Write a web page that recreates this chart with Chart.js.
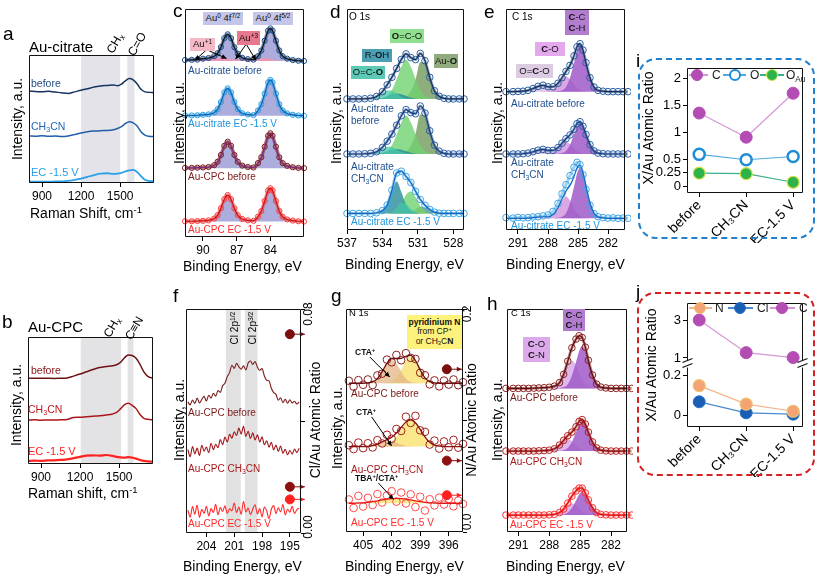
<!DOCTYPE html>
<html><head><meta charset="utf-8">
<script src="https://cdn.jsdelivr.net/npm/chart.js@4.4.1/dist/chart.umd.min.js"></script>
<style>
html,body{margin:0;padding:0;background:#fff;}
body{width:817px;height:575px;overflow:hidden;position:relative;font-family:'Liberation Sans',Arial,Helvetica,sans-serif;color:#000;}
canvas{position:absolute;left:0;top:0;}
.t{position:absolute;white-space:nowrap;line-height:1;}
.bx{position:absolute;display:flex;flex-direction:column;align-items:center;justify-content:center;line-height:1.1;white-space:nowrap;color:#111;}
sup{font-size:0.68em;position:relative;top:-0.5em;vertical-align:baseline;}
sub{font-size:0.68em;position:relative;top:0.3em;vertical-align:baseline;}
.dash{position:absolute;box-sizing:border-box;border-radius:18px;}
.lg{position:absolute;box-sizing:border-box;}
</style></head><body>
<script>
// ---------------- DATA ----------------
// Raman (a, b)
const ramanX = [800, 850, 900, 950, 1000, 1050, 1100, 1150, 1200, 1250, 1300, 1350, 1400, 1450, 1480, 1510, 1540, 1570, 1600, 1630, 1660, 1690, 1720, 1760];
const aBefore = [71.8, 71.5, 71.2, 71.6, 71.0, 70.6, 70.0, 71.2, 72.5, 73.6, 75.0, 75.8, 76.2, 76.6, 75.9, 77.2, 79.8, 81.6, 80.6, 77.5, 73.2, 71.2, 70.8, 70.6];
const aCH3CN = [36.8, 36.6, 36.9, 36.5, 36.7, 36.4, 36.8, 37.8, 39.0, 40.0, 40.6, 40.9, 41.0, 41.6, 42.6, 44.0, 46.4, 47.9, 47.0, 44.6, 40.0, 37.4, 36.5, 36.3];
const aEC = [1.0, 1.0, 1.1, 1.0, 1.2, 1.3, 1.6, 2.4, 3.4, 4.8, 6.2, 7.4, 7.6, 7.2, 7.4, 8.0, 9.0, 9.9, 10.2, 8.6, 5.4, 2.6, 1.6, 1.3];
const bBefore = [67.5, 67.5, 67.6, 67.5, 67.4, 67.5, 67.7, 69.2, 70.8, 72.6, 74.4, 76.0, 76.8, 77.4, 78.2, 80.0, 83.5, 85.8, 85.4, 83.2, 78.5, 72.5, 69.0, 67.6];
const bCH3CN = [34.6, 34.8, 34.5, 34.7, 34.6, 34.8, 35.0, 36.6, 36.8, 37.2, 37.6, 38.0, 38.6, 39.4, 40.6, 43.4, 46.6, 47.8, 46.2, 43.6, 39.0, 36.0, 35.2, 34.8];
const bEC = [2.4, 2.6, 2.5, 2.8, 2.9, 3.2, 3.6, 4.6, 5.6, 6.6, 6.8, 6.6, 7.1, 6.4, 5.6, 5.2, 5.0, 5.4, 5.0, 4.2, 3.2, 2.4, 2.0, 1.8];
const ramanTicks = [900, 1200, 1500];
const aBands = [[1200, 1500], [1555, 1610]];
const bBands = [[1205, 1515], [1565, 1610]];

// c: Au 4f
const cX = [91.6, 91, 90.5, 90, 89.5, 89, 88.7, 88.4, 88.1, 87.8, 87.5, 87.2, 86.9, 86.5, 86, 85.5, 85.1, 84.8, 84.5, 84.2, 84.0, 83.8, 83.5, 83.2, 82.9, 82.5, 82, 81.5, 81];
const cCitBefore = [77.6, 77.7, 77.8, 78.2, 78.5, 79.3, 80.6, 83.3, 87.2, 88.9, 87.2, 83.2, 80.4, 78.6, 78.0, 77.8, 79.3, 81.8, 86.1, 90.5, 91.5, 90.5, 86.1, 81.8, 79.3, 78.2, 77.6, 77.3, 77.2];
const cCitBeforeAuPlus = [77.2, 77.3, 77.4, 77.6, 78.0, 78.4, 78.6, 78.7, 78.6, 78.4, 78.1, 77.9, 77.8, 77.8, 77.9, 78.0, 78.3, 78.5, 78.6, 78.4, 78.2, 77.9, 77.6, 77.4, 77.3, 77.2, 77.2, 77.2, 77.2];
const cCitEC = [53.3, 53.3, 53.4, 53.6, 53.8, 54.6, 56.1, 59.2, 63.4, 65.2, 63.4, 59.2, 56.1, 54.3, 53.7, 53.5, 55.5, 58.2, 62.9, 67.8, 68.9, 67.8, 62.9, 58.2, 55.5, 54.2, 53.6, 53.3, 53.2];
const cCpcBefore = [30.3, 30.3, 30.4, 30.5, 30.7, 31.5, 33.0, 36.0, 40.0, 41.8, 40.0, 36.0, 33.0, 31.3, 30.7, 30.5, 32.4, 35.0, 39.6, 44.4, 45.5, 44.4, 39.6, 35.0, 32.4, 31.2, 30.6, 30.3, 30.2];
const cCpcEC = [6.9, 6.9, 7.0, 7.1, 7.3, 8.1, 9.6, 12.6, 16.6, 18.4, 16.6, 12.6, 9.6, 7.9, 7.3, 7.1, 8.9, 11.4, 15.8, 20.4, 21.4, 20.4, 15.8, 11.4, 8.9, 7.7, 7.2, 6.9, 6.8];
const cTicks = [90, 87, 84];

// d: O 1s
const dX = [537, 536.5, 536, 535.5, 535, 534.5, 534, 533.6, 533.2, 532.8, 532.4, 532.0, 531.6, 531.2, 530.8, 530.4, 530.0, 529.6, 529.2, 528.8, 528.4, 528, 527.5, 527.1];
const dEnv1 = [59.3, 59.3, 59.3, 59.4, 59.6, 60.4, 62.6, 65.7, 69.1, 73.1, 77.2, 79.7, 78.0, 77.1, 79.9, 76.6, 69.1, 63.0, 60.5, 59.6, 59.3, 59.3, 59.3, 59.3];
const dTeal1 = [59.3, 59.3, 59.3, 59.4, 59.6, 60.3, 61.8, 63.1, 63.0, 61.6, 60.3, 59.6, 59.4, 59.3, 59.3, 59.3, 59.3, 59.3, 59.3, 59.3, 59.3, 59.3, 59.3, 59.3];
const dRoh1 = [59.3, 59.3, 59.3, 59.3, 59.3, 59.4, 59.8, 60.6, 61.4, 61.8, 61.4, 60.6, 59.8, 59.4, 59.3, 59.3, 59.3, 59.3, 59.3, 59.3, 59.3, 59.3, 59.3, 59.3];
const dGreen1 = [59.3, 59.3, 59.3, 59.3, 59.3, 59.3, 59.6, 60.6, 63.3, 68.3, 73.9, 77.0, 73.9, 68.3, 63.2, 60.5, 59.6, 59.3, 59.3, 59.3, 59.3, 59.3, 59.3, 59.3];
const dOlive1 = [59.3, 59.3, 59.3, 59.3, 59.3, 59.3, 59.3, 59.3, 59.3, 59.3, 59.5, 60.4, 62.8, 68.0, 76.0, 75.4, 68.8, 63.0, 60.5, 59.6, 59.3, 59.3, 59.3, 59.3];
const dEnv2 = [34.4, 34.4, 34.4, 34.5, 34.7, 35.4, 37.4, 40.2, 43.4, 47.4, 51.7, 54.5, 53.1, 52.6, 56.1, 52.9, 44.9, 38.4, 35.7, 34.7, 34.4, 34.4, 34.4, 34.4];
const dTeal2 = [34.4, 34.4, 34.4, 34.5, 34.7, 35.3, 36.6, 37.7, 37.6, 36.4, 35.3, 34.7, 34.5, 34.4, 34.4, 34.4, 34.4, 34.4, 34.4, 34.4, 34.4, 34.4, 34.4, 34.4];
const dRoh2 = [34.4, 34.4, 34.4, 34.4, 34.4, 34.5, 34.9, 35.6, 36.3, 36.6, 36.3, 35.6, 34.9, 34.5, 34.4, 34.4, 34.4, 34.4, 34.4, 34.4, 34.4, 34.4, 34.4, 34.4];
const dGreen2 = [34.4, 34.4, 34.4, 34.4, 34.4, 34.4, 34.7, 35.7, 38.3, 43.2, 48.7, 51.8, 48.7, 43.2, 38.2, 35.6, 34.7, 34.4, 34.4, 34.4, 34.4, 34.4, 34.4, 34.4];
const dOlive2 = [34.4, 34.4, 34.4, 34.4, 34.4, 34.4, 34.4, 34.4, 34.4, 34.4, 34.6, 35.6, 38.2, 43.7, 52.3, 51.7, 44.6, 38.4, 35.7, 34.7, 34.4, 34.4, 34.4, 34.4];
const dEnv3 = [7.5, 7.5, 7.5, 7.5, 7.5, 7.8, 8.8, 11.3, 18.0, 25.8, 26.6, 24.2, 21.5, 17.5, 13.8, 11.2, 9.3, 8.1, 7.6, 7.5, 7.5, 7.5, 7.5, 7.5];
const dRoh3 = [7.5, 7.5, 7.5, 7.5, 7.5, 7.8, 8.8, 11.3, 17.2, 22.0, 17.2, 11.3, 8.8, 7.8, 7.5, 7.5, 7.5, 7.5, 7.5, 7.5, 7.5, 7.5, 7.5, 7.5];
const dGreen3 = [7.5, 7.5, 7.5, 7.5, 7.5, 7.5, 7.5, 7.5, 7.8, 9.0, 12.0, 16.0, 17.4, 14.8, 10.8, 8.5, 7.7, 7.5, 7.5, 7.5, 7.5, 7.5, 7.5, 7.5];
const dTeal3 = [7.5, 7.5, 7.5, 7.5, 7.5, 7.5, 7.5, 7.5, 8.0, 9.8, 12.4, 11.8, 9.6, 8.0, 7.5, 7.5, 7.5, 7.5, 7.5, 7.5, 7.5, 7.5, 7.5, 7.5];
const dOlive3 = [7.5, 7.5, 7.5, 7.5, 7.5, 7.5, 7.5, 7.5, 7.5, 7.5, 7.5, 7.6, 8.2, 9.4, 10.5, 10.2, 9.1, 8.1, 7.6, 7.5, 7.5, 7.5, 7.5, 7.5];
const dTicks = [537, 534, 531, 528];

// e: C 1s (Au-citrate)
const eX = [292.2, 291.5, 291, 290.5, 290, 289.5, 289, 288.5, 288, 287.5, 287, 286.6, 286.2, 285.8, 285.4, 285.1, 284.8, 284.5, 284.2, 283.8, 283.4, 283, 282.5, 282, 281.5, 281, 280.5, 280];
const eEnv1 = [62.6, 62.6, 62.7, 62.8, 63.2, 64.0, 65.0, 65.5, 64.8, 64.8, 66.4, 68.9, 71.8, 74.5, 78.8, 82.9, 84.3, 81.4, 75.7, 68.9, 64.7, 63.2, 62.8, 62.6, 62.6, 62.6, 62.6, 62.6];
const eCC1 = [62.6, 62.6, 62.6, 62.6, 62.6, 62.6, 62.6, 62.6, 62.6, 62.6, 62.8, 63.2, 64.7, 68.9, 75.6, 81.1, 83.6, 81.1, 75.6, 68.9, 64.7, 63.2, 62.8, 62.6, 62.6, 62.6, 62.6, 62.6];
const eCO1 = [62.6, 62.6, 62.6, 62.6, 62.6, 62.6, 62.6, 62.7, 62.8, 63.7, 65.8, 68.2, 69.6, 68.2, 65.8, 64.4, 63.3, 62.9, 62.7, 62.6, 62.6, 62.6, 62.6, 62.6, 62.6, 62.6, 62.6, 62.6];
const eOCO1 = [62.6, 62.6, 62.7, 62.8, 63.2, 64.0, 65.0, 65.4, 64.6, 63.7, 63.0, 62.7, 62.7, 62.6, 62.6, 62.6, 62.6, 62.6, 62.6, 62.6, 62.6, 62.6, 62.6, 62.6, 62.6, 62.6, 62.6, 62.6];
const eEnv2 = [34.4, 34.4, 34.4, 34.5, 34.8, 35.4, 36.1, 36.5, 36.0, 36.0, 37.3, 39.3, 41.3, 43.0, 45.6, 48.1, 49.0, 46.9, 43.2, 38.6, 35.8, 34.8, 34.5, 34.4, 34.4, 34.4, 34.4, 34.4];
const eCC2 = [34.4, 34.4, 34.4, 34.4, 34.4, 34.4, 34.4, 34.4, 34.4, 34.4, 34.5, 34.8, 35.8, 38.6, 43.1, 46.7, 48.4, 46.7, 43.1, 38.6, 35.8, 34.8, 34.5, 34.4, 34.4, 34.4, 34.4, 34.4];
const eCO2 = [34.4, 34.4, 34.4, 34.4, 34.4, 34.4, 34.4, 34.5, 34.6, 35.2, 36.9, 38.8, 39.9, 38.8, 36.9, 35.8, 35.0, 34.6, 34.5, 34.4, 34.4, 34.4, 34.4, 34.4, 34.4, 34.4, 34.4, 34.4];
const eOCO2 = [34.4, 34.4, 34.4, 34.5, 34.8, 35.4, 36.1, 36.4, 35.8, 35.2, 34.7, 34.5, 34.4, 34.4, 34.4, 34.4, 34.4, 34.4, 34.4, 34.4, 34.4, 34.4, 34.4, 34.4, 34.4, 34.4, 34.4, 34.4];
const eEnv3 = [5.3, 5.3, 5.3, 5.3, 5.4, 5.6, 5.8, 6.0, 6.0, 7.0, 10.1, 14.0, 17.6, 20.2, 24.1, 28.0, 29.3, 25.9, 19.8, 12.2, 7.6, 6.0, 5.5, 5.3, 5.3, 5.3, 5.3, 5.3];
const eData3 = [5.6, 5.4, 5.7, 5.5, 5.6, 5.9, 6.0, 6.4, 6.8, 8.4, 12.0, 16.4, 20.5, 24.6, 28.4, 30.6, 29.6, 25.0, 18.4, 11.2, 7.4, 6.0, 5.6, 5.4, 5.5, 5.3, 5.4, 5.3];
const eCC3 = [5.3, 5.3, 5.3, 5.3, 5.3, 5.3, 5.3, 5.3, 5.3, 5.3, 5.5, 6.0, 7.6, 12.2, 19.6, 25.5, 28.3, 25.5, 19.6, 12.2, 7.6, 6.0, 5.5, 5.3, 5.3, 5.3, 5.3, 5.3];
const eCO3 = [5.3, 5.3, 5.3, 5.3, 5.3, 5.3, 5.3, 5.4, 5.6, 6.8, 9.8, 13.3, 15.3, 13.3, 9.8, 7.8, 6.3, 5.7, 5.5, 5.3, 5.3, 5.3, 5.3, 5.3, 5.3, 5.3, 5.3, 5.3];
const eOCO3 = [5.3, 5.3, 5.3, 5.3, 5.4, 5.6, 5.8, 5.9, 5.7, 5.5, 5.4, 5.3, 5.3, 5.3, 5.3, 5.3, 5.3, 5.3, 5.3, 5.3, 5.3, 5.3, 5.3, 5.3, 5.3, 5.3, 5.3, 5.3];
const eTicks = [291, 288, 285, 282];

// f: Cl 2p
const fX = [206, 205.75, 205.5, 205.25, 205, 204.75, 204.5, 204.25, 204, 203.75, 203.5, 203.25, 203, 202.75, 202.5, 202.25, 202, 201.75, 201.5, 201.25, 201, 200.75, 200.5, 200.25, 200, 199.75, 199.5, 199.25, 199, 198.75, 198.5, 198.25, 198, 197.75, 197.5, 197.25, 197, 196.75, 196.5, 196.25, 196, 195.75, 195.5, 195.25, 195, 194.75, 194.5, 194.25, 194];
const fBefore = [58.5, 57.2, 59.4, 57.8, 60.2, 58.1, 59.6, 61.0, 58.9, 61.5, 60.2, 62.4, 61.1, 63.6, 62.8, 65.7, 66.9, 69.8, 71.6, 74.9, 73.5, 75.8, 74.2, 73.1, 74.6, 72.8, 75.9, 76.8, 75.2, 76.5, 74.1, 72.6, 73.4, 70.1, 68.2, 67.9, 64.6, 62.7, 61.9, 59.3, 60.4, 58.2, 59.7, 57.9, 59.5, 58.1, 58.8, 57.6, 58.4];
const fCH3CN = [37.2, 34.1, 38.6, 35.3, 37.9, 34.6, 39.2, 36.5, 38.4, 35.8, 40.1, 37.2, 39.6, 38.1, 41.7, 39.4, 42.8, 40.6, 44.1, 42.3, 45.2, 43.5, 46.8, 44.2, 47.6, 43.1, 45.4, 42.2, 44.7, 41.5, 43.8, 40.6, 42.9, 39.4, 41.2, 38.3, 40.5, 37.1, 39.3, 36.4, 38.8, 35.6, 37.4, 34.9, 36.8, 35.2, 37.5, 35.9, 37.8];
const fEC = [10.2, 7.1, 11.8, 8.4, 12.5, 6.9, 10.6, 8.8, 11.9, 7.6, 10.9, 9.2, 12.8, 8.1, 11.4, 9.6, 12.1, 8.7, 10.8, 9.9, 13.4, 9.1, 11.6, 8.3, 14.2, 9.4, 11.1, 8.2, 10.7, 12.6, 8.5, 10.9, 7.2, 11.6, 9.8, 6.4, 10.5, 12.2, 8.6, 11.3, 9.4, 12.7, 8.1, 10.6, 9.3, 11.9, 8.7, 10.4, 11.1];
const fTicks = [204, 201, 198, 195];
const fBands = [[200.3, 201.9], [198.5, 199.85]];
const clRatioX = [195.0, 195.0, 195.0];
const clRatio = [0.071, 0.0165, 0.012];
const clTicks = [0, 0.04, 0.08];

// g: N 1s
const gX = [406.5, 406, 405.5, 405, 404.5, 404, 403.5, 403, 402.5, 402, 401.5, 401, 400.5, 400, 399.5, 399, 398.5, 398, 397.5, 397, 396.5, 396, 395.5, 395, 394.5];
const gEnv1 = [66.7, 66.7, 66.7, 66.7, 66.9, 67.3, 68.8, 71.9, 75.6, 77.8, 77.8, 77.9, 78.8, 79.2, 76.9, 72.7, 69.1, 67.4, 66.9, 66.7, 66.7, 66.7, 66.7, 66.7, 66.7];
const gCTA1 = [66.7, 66.7, 66.7, 66.7, 66.9, 67.3, 68.8, 71.9, 75.4, 77.1, 75.4, 71.9, 68.8, 67.3, 66.9, 66.7, 66.7, 66.7, 66.7, 66.7, 66.7, 66.7, 66.7, 66.7, 66.7];
const gPyr1 = [66.7, 66.7, 66.7, 66.7, 66.7, 66.7, 66.7, 66.7, 66.9, 67.4, 69.1, 72.7, 76.7, 78.6, 76.7, 72.7, 69.1, 67.4, 66.9, 66.7, 66.7, 66.7, 66.7, 66.7, 66.7];
const gData1 = [67.8, 65.2, 68.1, 66.0, 68.4, 65.9, 70.2, 71.0, 77.3, 76.1, 79.4, 77.0, 80.2, 78.1, 77.6, 71.4, 70.3, 66.2, 68.0, 65.3, 67.9, 66.1, 68.4, 65.8, 67.2];
const gEnv2 = [38.3, 38.3, 38.3, 38.3, 38.4, 38.7, 39.4, 40.4, 41.4, 42.5, 44.4, 46.9, 49.3, 50.3, 49.0, 46.0, 42.7, 40.2, 39.0, 38.5, 38.3, 38.3, 38.3, 38.3, 38.3];
const gCTA2 = [38.3, 38.3, 38.3, 38.3, 38.4, 38.7, 39.4, 40.2, 40.7, 40.6, 40.0, 39.2, 38.6, 38.4, 38.3, 38.3, 38.3, 38.3, 38.3, 38.3, 38.3, 38.3, 38.3, 38.3, 38.3];
const gPyr2 = [38.3, 38.3, 38.3, 38.3, 38.3, 38.3, 38.3, 38.5, 39.0, 40.2, 42.7, 46.0, 49.0, 50.2, 49.0, 46.0, 42.7, 40.2, 39.0, 38.5, 38.3, 38.3, 38.3, 38.3, 38.3];
const gData2 = [38.9, 37.2, 40.1, 37.6, 39.8, 37.9, 41.2, 39.7, 43.6, 41.8, 46.2, 45.3, 51.7, 48.9, 52.1, 45.6, 44.9, 39.2, 41.0, 37.4, 40.6, 38.0, 41.3, 37.8, 39.5];
const gEnv3 = [12.9, 12.9, 13.0, 13.1, 13.3, 13.6, 14.0, 14.4, 14.8, 15.0, 15.1, 15.0, 14.8, 14.4, 14.0, 13.6, 13.3, 13.1, 13.0, 12.9, 12.9, 12.9, 12.9, 12.9, 12.9];
const gData3 = [14.6, 10.8, 16.2, 11.4, 15.3, 12.1, 17.0, 13.2, 16.4, 18.3, 13.6, 17.7, 12.8, 16.9, 11.2, 15.8, 9.6, 14.7, 11.9, 15.4, 12.3, 14.8, 11.5, 14.1, 12.6];
const gTicks = [405, 402, 399, 396];
const nRatioX = [396.2, 396.2, 396.2];
const nRatio = [0.146, 0.064, 0.033];
const nTicks = [0, 0.1, 0.2];

// h: C 1s (Au-CPC)
const hEnv1 = [64.4, 64.4, 64.4, 64.4, 64.4, 64.5, 64.6, 64.7, 64.9, 65.4, 67.0, 70.7, 76.6, 82.6, 86.5, 88.0, 87.2, 82.9, 77.0, 70.4, 66.3, 65.0, 64.6, 64.4, 64.4, 64.4, 64.4, 64.4];
const hCC1 = [64.4, 64.4, 64.4, 64.4, 64.4, 64.4, 64.4, 64.4, 64.4, 64.4, 64.6, 65.0, 66.3, 70.1, 76.2, 81.1, 83.4, 81.1, 76.2, 70.1, 66.3, 65.0, 64.6, 64.4, 64.4, 64.4, 64.4, 64.4];
const hCO1 = [64.4, 64.4, 64.4, 64.4, 64.4, 64.4, 64.4, 64.4, 64.5, 65.0, 66.7, 70.0, 74.7, 76.9, 74.7, 71.3, 68.2, 66.2, 65.2, 64.7, 64.4, 64.4, 64.4, 64.4, 64.4, 64.4, 64.4, 64.4];
const hEnv2 = [36.3, 36.3, 36.3, 36.3, 36.3, 36.3, 36.4, 36.5, 36.7, 37.3, 39.0, 41.1, 43.2, 44.8, 47.2, 49.6, 50.4, 48.4, 44.8, 40.4, 37.7, 36.7, 36.4, 36.3, 36.3, 36.3, 36.3, 36.3];
const hCC2 = [36.3, 36.3, 36.3, 36.3, 36.3, 36.3, 36.3, 36.3, 36.3, 36.3, 36.4, 36.7, 37.7, 40.4, 44.7, 48.2, 49.8, 48.2, 44.7, 40.4, 37.7, 36.7, 36.4, 36.3, 36.3, 36.3, 36.3, 36.3];
const hCO2 = [36.3, 36.3, 36.3, 36.3, 36.3, 36.3, 36.3, 36.4, 36.5, 37.1, 38.8, 40.7, 41.8, 40.7, 38.8, 37.7, 36.9, 36.5, 36.4, 36.3, 36.3, 36.3, 36.3, 36.3, 36.3, 36.3, 36.3, 36.3];
const hEnv3 = [7.6, 7.6, 7.6, 7.6, 7.6, 7.6, 7.6, 7.6, 7.7, 7.9, 8.7, 10.3, 13.0, 16.1, 18.4, 19.7, 19.7, 17.5, 14.4, 10.9, 8.7, 7.9, 7.7, 7.6, 7.6, 7.6, 7.6, 7.6];
const hCC3 = [7.6, 7.6, 7.6, 7.6, 7.6, 7.6, 7.6, 7.6, 7.6, 7.6, 7.7, 7.9, 8.7, 10.8, 14.1, 16.8, 18.1, 16.8, 14.1, 10.8, 8.7, 7.9, 7.7, 7.6, 7.6, 7.6, 7.6, 7.6];
const hCO3 = [7.6, 7.6, 7.6, 7.6, 7.6, 7.6, 7.6, 7.6, 7.7, 7.9, 8.6, 10.0, 11.9, 12.9, 11.9, 10.5, 9.2, 8.3, 7.9, 7.7, 7.6, 7.6, 7.6, 7.6, 7.6, 7.6, 7.6, 7.6];

// i, j: atomic ratios
const ratioCats = ['before', 'CH\u2083CN', 'EC-1.5 V'];
const ratioIdx = [0, 1, 2];
const iC = [1.36, 0.91, 1.73];
const iO = [0.59, 0.49, 0.55];
const iOAu = [0.24, 0.23, 0.07];
const iTicks = [0, 0.25, 0.5, 1, 1.5, 2];
const jN = [0.15, 0.056, 0.02];
const jCl = [0.068, 0.012, 0.005];
const jC = [3.0, 1.28, 1.02];
const jUpperTicks = [1, 3];
const jLowerTicks = [0, 0.2];

// ---------------- HELPERS ----------------
const W = 817, H = 575;
const FONT = "'Liberation Sans', Arial, Helvetica, sans-serif";
Chart.defaults.font.family = FONT;
Chart.defaults.color = '#000';

function P(xs, ys) { return xs.map((x, i) => ({ x: x, y: ys[i] })); }
function mkCanvas() { const c = document.createElement('canvas'); c.width = W; c.height = H; document.body.appendChild(c); return c; }

function drawArrow(c, x1, y1, x2, y2, col, head) {
  c.save(); c.strokeStyle = col; c.fillStyle = col; c.lineWidth = 1;
  c.beginPath(); c.moveTo(x1, y1); c.lineTo(x2, y2); c.stroke();
  if (head) {
    const a = Math.atan2(y2 - y1, x2 - x1), L = 5, w = 2.4;
    c.beginPath(); c.moveTo(x2, y2);
    c.lineTo(x2 - L * Math.cos(a) + w * Math.sin(a), y2 - L * Math.sin(a) - w * Math.cos(a));
    c.lineTo(x2 - L * Math.cos(a) - w * Math.sin(a), y2 - L * Math.sin(a) + w * Math.cos(a));
    c.closePath(); c.fill();
  }
  c.restore();
}

const framePlugin = {
  id: 'frame',
  afterDraw(chart, args, o) {
    const a = chart.chartArea, c = chart.ctx, s = o.sides || 'tlbr';
    const L = Math.round(a.left) + 0.5, R = Math.round(a.right) - 0.5, T = Math.round(a.top) + 0.5, B = Math.round(a.bottom) - 0.5;
    const gt = o.gapTop || 0, gb = o.gapBottom || 0;
    c.save(); c.strokeStyle = o.color || '#111'; c.lineWidth = 1; c.beginPath();
    if (s.includes('t')) { c.moveTo(L, T); c.lineTo(R, T); }
    if (s.includes('b')) { c.moveTo(L, B); c.lineTo(R, B); }
    if (s.includes('l')) { c.moveTo(L, T + gt); c.lineTo(L, B - gb); }
    if (s.includes('r')) { c.moveTo(R, T + gt); c.lineTo(R, B - gb); }
    c.stroke();
    if (o.breaks) {
      c.lineWidth = 1.2;
      for (const X of [L, R]) { c.beginPath(); c.moveTo(X - 5, B - 1); c.lineTo(X + 5, B - 5); c.moveTo(X - 5, B + 4); c.lineTo(X + 5, B); c.stroke(); }
    }
    c.restore();
  }
};
const bandsPlugin = {
  id: 'bands',
  beforeDatasetsDraw(chart, args, o) {
    if (!o.list) return;
    const a = chart.chartArea, x = chart.scales.x, c = chart.ctx;
    c.save(); c.fillStyle = o.color || '#e3e3e8';
    for (const b of o.list) { const p1 = x.getPixelForValue(b[0]), p2 = x.getPixelForValue(b[1]); c.fillRect(Math.min(p1, p2), a.top, Math.abs(p2 - p1), a.bottom - a.top); }
    c.restore();
  }
};
const arrowsPlugin = {
  id: 'arrows',
  afterDatasetsDraw(chart, args, o) {
    const c = chart.ctx, xs = chart.scales.x;
    (o.list || []).forEach(l => {
      const ys = chart.scales[l.axis || 'y'];
      drawArrow(c, xs.getPixelForValue(l.x1), ys.getPixelForValue(l.y1), xs.getPixelForValue(l.x2), ys.getPixelForValue(l.y2), l.color || '#000', l.head !== false);
    });
    chart.data.datasets.forEach((ds, i) => {
      if (!ds.arrowRight) return;
      chart.getDatasetMeta(i).data.forEach((pt, j) => {
        const col = Array.isArray(ds.pointBackgroundColor) ? ds.pointBackgroundColor[j] : ds.pointBackgroundColor;
        drawArrow(c, pt.x + 4, pt.y, pt.x + 15, pt.y, col, true);
      });
    });
  }
};

function Ln(xs, ys, color, w) { return { data: P(xs, ys), borderColor: color, borderWidth: w || 1.2, pointRadius: 0, fill: false, cubicInterpolationMode: 'monotone' }; }
function Fl(xs, ys, base, color, edge) { return { data: P(xs, ys), borderColor: edge || 'rgba(0,0,0,0)', borderWidth: edge ? 0.7 : 0, backgroundColor: color, fill: { value: base }, pointRadius: 0, cubicInterpolationMode: 'monotone' }; }
function Dt(xs, ys, color, r, lw, lcol) { return { data: P(xs, ys), showLine: lw > 0, borderColor: lcol || color, borderWidth: lw || 0, pointRadius: r || 3, pointBorderColor: color, pointBorderWidth: 1, pointBackgroundColor: 'rgba(255,255,255,0)', fill: false, cubicInterpolationMode: 'monotone', clip: 6 }; }

function xpsPanel(area, xr, ticks, datasets, o) {
  o = o || {};
  const c = mkCanvas();
  const XH = 26, RW = o.right ? 5 : 0;
  const scales = {
    x: {
      type: 'linear', min: xr[0], max: xr[1], reverse: !!o.rev,
      afterFit: s => { s.height = XH; },
      afterBuildTicks: s => { s.ticks = ticks.map(v => ({ value: v })); },
      ticks: { font: { size: 12 }, padding: 2, maxRotation: 0, minRotation: 0, autoSkip: false, color: '#000', callback: v => String(v) },
      grid: { display: true, drawOnChartArea: false, drawTicks: true, tickLength: 4, color: '#000', lineWidth: 1 },
      border: { display: false }
    },
    y: { display: false, min: 0, max: 100 }
  };
  if (o.right) {
    scales.y2 = {
      position: 'right', min: o.right.min, max: o.right.max,
      afterFit: s => { s.width = RW; },
      afterBuildTicks: s => { s.ticks = o.right.ticks.map(v => ({ value: v })); },
      ticks: { display: false },
      grid: { display: true, drawOnChartArea: false, drawTicks: true, tickLength: 4, color: '#000' },
      border: { display: false }
    };
  }
  return new Chart(c, {
    type: 'line', data: { datasets },
    options: {
      responsive: false, animation: false, devicePixelRatio: 1, events: [],
      layout: { padding: { left: area.l, top: area.t, right: W - area.r - RW, bottom: H - area.b - XH } },
      plugins: { legend: { display: false }, tooltip: { enabled: false }, frame: { sides: 'tlbr' }, bands: o.bands || {}, arrows: o.arrows || {} },
      scales
    },
    plugins: [framePlugin, bandsPlugin, arrowsPlugin]
  });
}

function ratioChart(area, yr, yTicks, datasets, o) {
  const c = mkCanvas();
  const YW = 40, XH = o.showX ? 50 : 0;
  return new Chart(c, {
    type: 'line', data: { datasets },
    options: {
      responsive: false, animation: false, devicePixelRatio: 1, events: [],
      layout: { padding: { left: area.l - YW, top: area.t, right: W - area.r, bottom: H - area.b - XH } },
      plugins: { legend: { display: false }, tooltip: { enabled: false }, frame: { sides: o.sides, gapTop: o.gapTop, gapBottom: o.gapBottom, breaks: o.breaks } },
      scales: {
        x: {
          type: 'linear', display: !!o.showX, min: -0.26, max: 2.21,
          afterFit: s => { s.height = XH; },
          afterBuildTicks: s => { s.ticks = ratioIdx.map(v => ({ value: v })); },
          ticks: { autoSkip: false, minRotation: 45, maxRotation: 45, font: { size: 14 }, padding: 0, callback: v => ratioCats[v] },
          grid: { display: true, drawOnChartArea: false, drawTicks: true, tickLength: 4, color: '#000' },
          border: { display: false }
        },
        y: {
          min: yr[0], max: yr[1],
          afterFit: s => { s.width = YW; },
          afterBuildTicks: s => { s.ticks = yTicks.map(v => ({ value: v })); },
          ticks: { font: { size: 13 }, padding: 2, callback: v => String(v) },
          grid: { display: true, drawOnChartArea: false, drawTicks: true, tickLength: 4, color: '#000' },
          border: { display: false }
        }
      }
    },
    plugins: [framePlugin]
  });
}
function RS(xs, ys, lineCol, fillCol, borderCol, bw, r, axis) {
  return { data: P(xs, ys), borderColor: lineCol, borderWidth: 1.2, pointRadius: r || 6, pointBackgroundColor: fillCol, pointBorderColor: borderCol, pointBorderWidth: bw || 1, fill: false, clip: false, yAxisID: axis || 'y' };
}

// ---------------- PANELS ----------------
// a
xpsPanel({ l: 29, t: 55, r: 154, b: 183 }, [800, 1760], ramanTicks, [
  Ln(ramanX, aBefore, '#17335f', 1.5), Ln(ramanX, aCH3CN, '#1f5ea8', 1.5), Ln(ramanX, aEC, '#2b9fe8', 1.8)
], { bands: { list: aBands, color: '#e3e3e9' } });
// b
xpsPanel({ l: 28, t: 337, r: 153, b: 464 }, [800, 1760], ramanTicks, [
  Ln(ramanX, bBefore, '#6e1214', 1.5), Ln(ramanX, bCH3CN, '#a8161c', 1.5), Ln(ramanX, bEC, '#ff2222', 2.2)
], { bands: { list: bBands, color: '#e3e3e6' } });

// c
const lav = 'rgba(150,150,212,0.78)', pinkC = 'rgba(240,150,178,0.9)';
xpsPanel({ l: 185, t: 9, r: 304, b: 237 }, [81, 91.6], cTicks, [
  Ln(cX, cCitBefore, '#111', 1.2), Ln(cX, cCitEC, '#1560b0', 1.2), Ln(cX, cCpcBefore, '#7a2a80', 1.2), Ln(cX, cCpcEC, '#c01818', 1.2),
  Dt(cX, cCitBefore, '#1d4c86', 2.6, 3.5, 'rgba(29,76,134,0.55)'), Dt(cX, cCitEC, '#2aa0e4', 2.6, 3.5, 'rgba(42,160,228,0.55)'),
  Dt(cX, cCpcBefore, '#7a1a1a', 2.6, 3.5, 'rgba(122,26,26,0.55)'), Dt(cX, cCpcEC, '#ff3a3a', 2.6, 3.5, 'rgba(255,58,58,0.55)'),
  Fl(cX, cCitBeforeAuPlus, 77.2, pinkC),
  Fl(cX, cCitBefore, 77.2, lav), Fl(cX, cCitEC, 53.2, lav), Fl(cX, cCpcBefore, 30.2, lav), Fl(cX, cCpcEC, 6.8, lav)
], { rev: true, arrows: { list: [
  { x1: 89.7, y1: 82.0, x2: 90.7, y2: 77.6 }, { x1: 89.6, y1: 82.0, x2: 87.9, y2: 78.3 },
  { x1: 86.2, y1: 84.2, x2: 87.1, y2: 78.0 }, { x1: 86.1, y1: 84.2, x2: 85.3, y2: 77.6 }
] } });

// d
const cTeal = 'rgba(72,200,168,0.75)', cRoh = 'rgba(40,140,155,0.8)', cGreen = 'rgba(112,210,112,0.8)', cOlive = 'rgba(122,160,102,0.85)';
xpsPanel({ l: 347, t: 9, r: 464, b: 230 }, [527.1, 537], dTicks, [
  Ln(dX, dEnv1, '#1b2b55', 1.2), Ln(dX, dEnv2, '#1b3c7a', 1.2), Ln(dX, dEnv3, '#1565c0', 1.2),
  Dt(dX, dEnv1, '#2d5f9e', 3.3, 3, 'rgba(45,95,158,0.5)'), Dt(dX, dEnv2, '#2d5fa6', 3.3, 3, 'rgba(45,95,166,0.5)'), Dt(dX, dEnv3, '#3ea6e6', 3.3, 3, 'rgba(62,166,230,0.5)'),
  Fl(dX, dTeal1, 59.3, cTeal), Fl(dX, dRoh1, 59.3, cRoh), Fl(dX, dGreen1, 59.3, cGreen), Fl(dX, dOlive1, 59.3, cOlive),
  Fl(dX, dTeal2, 34.4, cTeal), Fl(dX, dRoh2, 34.4, cRoh), Fl(dX, dGreen2, 34.4, cGreen), Fl(dX, dOlive2, 34.4, cOlive),
  Fl(dX, dTeal3, 7.5, cTeal), Fl(dX, dRoh3, 7.5, cRoh), Fl(dX, dGreen3, 7.5, cGreen), Fl(dX, dOlive3, 7.5, cOlive)
], { rev: true });

// e
const pCC = 'rgba(160,90,200,0.85)', pCO = 'rgba(208,145,222,0.78)', pOCO = 'rgba(218,192,228,0.85)';
xpsPanel({ l: 506, t: 9, r: 625, b: 230 }, [280.3, 292.2], eTicks, [
  Ln(eX, eEnv1, '#1b2b55', 1.2), Ln(eX, eEnv2, '#1b3c7a', 1.2), Ln(eX, eEnv3, '#1565c0', 1.2),
  Dt(eX, eEnv1, '#2d5f9e', 3.3, 3, 'rgba(45,95,158,0.5)'), Dt(eX, eEnv2, '#2d5fa6', 3.3, 3, 'rgba(45,95,166,0.5)'), Dt(eX, eData3, '#3ea6e6', 3.3, 3, 'rgba(62,166,230,0.5)'),
  Fl(eX, eCC1, 62.6, pCC), Fl(eX, eCO1, 62.6, pCO), Fl(eX, eOCO1, 62.6, pOCO),
  Fl(eX, eCC2, 34.4, pCC), Fl(eX, eCO2, 34.4, pCO), Fl(eX, eOCO2, 34.4, pOCO),
  Fl(eX, eCC3, 5.3, pCC), Fl(eX, eCO3, 5.3, pCO), Fl(eX, eOCO3, 5.3, pOCO)
], { rev: true });

// f
xpsPanel({ l: 186, t: 309, r: 301, b: 533 }, [193.8, 206.2], fTicks, [
  { data: P(clRatioX, clRatio), yAxisID: 'y2', showLine: false, pointRadius: 4.5, pointBackgroundColor: ['#7a0e0e', '#8e1010', '#ff2020'], pointBorderColor: ['#7a0e0e', '#8e1010', '#ff2020'], arrowRight: true, clip: false },
  Ln(fX, fBefore, '#7a1a1a', 1.1), Ln(fX, fCH3CN, '#a0161a', 1.1), Ln(fX, fEC, '#ff2a2a', 1.1)
], { rev: true, right: { min: 0, max: 0.08, ticks: clTicks }, bands: { list: fBands, color: '#e1e1e1' } });

// g
const gTan = 'rgba(226,182,132,0.75)', gYel = 'rgba(250,226,112,0.8)';
xpsPanel({ l: 346, t: 309, r: 463, b: 532 }, [394.5, 406.8], gTicks, [
  { data: P(nRatioX, nRatio), yAxisID: 'y2', showLine: false, pointRadius: 4.5, pointBackgroundColor: ['#7a0e0e', '#8e1010', '#ff2020'], pointBorderColor: ['#7a0e0e', '#8e1010', '#ff2020'], arrowRight: true, clip: false },
  Ln(gX, gEnv1, '#6a1010', 1.3), Ln(gX, gEnv2, '#8a1010', 1.3), Ln(gX, gEnv3, '#e01818', 1.3),
  Dt(gX, gData1, '#8a2020', 3.8, 0), Dt(gX, gData2, '#a02020', 3.8, 0), Dt(gX, gData3, '#ff4a4a', 3.8, 0),
  Fl(gX, gCTA1, 66.7, gTan), Fl(gX, gPyr1, 66.7, gYel),
  Fl(gX, gCTA2, 38.3, gTan), Fl(gX, gPyr2, 38.3, gYel),
  Fl(gX, gEnv3, 12.9, gYel)
], { rev: true, right: { min: 0, max: 0.2, ticks: nTicks }, arrows: { list: [
  { x1: 404.3, y1: 78.5, x2: 402.2, y2: 69.5 }, { x1: 404.1, y1: 51.6, x2: 402.0, y2: 38.6 }, { x1: 403.4, y1: 22.0, x2: 401.8, y2: 14.6 }
] } });

// h
const hCCc = 'rgba(160,90,200,0.85)', hCOc = 'rgba(214,165,232,0.8)';
xpsPanel({ l: 507, t: 309, r: 627, b: 532 }, [280.45, 292.1], eTicks, [
  Ln(eX, hEnv1, '#5a1010', 1.2), Ln(eX, hEnv2, '#8a1010', 1.2), Ln(eX, hEnv3, '#d01010', 1.2),
  Dt(eX, hEnv1, '#8a2222', 3.3, 3, 'rgba(138,34,34,0.5)'), Dt(eX, hEnv2, '#b02020', 3.3, 3, 'rgba(176,32,32,0.5)'), Dt(eX, hEnv3, '#ff3030', 3.3, 3, 'rgba(255,48,48,0.5)'),
  Fl(eX, hCC1, 64.4, hCCc), Fl(eX, hCO1, 64.4, hCOc),
  Fl(eX, hCC2, 36.3, hCCc), Fl(eX, hCO2, 36.3, hCOc),
  Fl(eX, hCC3, 7.6, hCCc), Fl(eX, hCO3, 7.6, hCOc)
], { rev: true });

// i
ratioChart({ l: 687, t: 68, r: 803, b: 193 }, [-0.13, 2.2], iTicks, [
  RS(ratioIdx, iC, '#d596d5', '#b34db3', '#b34db3', 1, 6),
  RS(ratioIdx, iO, '#4ea8df', '#ffffff', '#1c8ed8', 2.5, 5.5),
  RS(ratioIdx, iOAu, '#3ab08a', '#2db34a', '#d4e44a', 1.2, 6)
], { showX: true, sides: 'tlbr' });

// j
ratioChart({ l: 687, t: 303, r: 803, b: 364 }, [0.68, 3.9], jUpperTicks, [
  RS(ratioIdx, jC, '#d596d5', '#b34db3', '#b34db3', 1, 6)
], { showX: false, sides: 'tlr', gapBottom: 3, breaks: true });
ratioChart({ l: 687, t: 364, r: 803, b: 427 }, [-0.06, 0.26], jLowerTicks, [
  RS(ratioIdx, jN, '#f3b48c', '#f4a474', '#f0c070', 1.2, 6),
  RS(ratioIdx, jCl, '#4a8ad0', '#1a5fb4', '#2a70c8', 1, 6)
], { showX: true, sides: 'lbr', gapTop: 3 });

// ---------------- TEXT ----------------
function T(html, x, base, size, color, extra) {
  const d = document.createElement('div'); d.className = 't'; d.innerHTML = html;
  d.style.left = x + 'px'; d.style.top = (base - 0.85 * size) + 'px'; d.style.fontSize = size + 'px';
  if (color) d.style.color = color; if (extra) Object.assign(d.style, extra);
  document.body.appendChild(d); return d;
}
function TC(html, cx, cy, size, color, rot, extra) {
  const d = document.createElement('div'); d.className = 't'; d.innerHTML = html;
  d.style.left = cx + 'px'; d.style.top = cy + 'px'; d.style.fontSize = size + 'px';
  d.style.transform = 'translate(-50%,-50%) rotate(' + (rot || 0) + 'deg)';
  if (color) d.style.color = color; if (extra) Object.assign(d.style, extra);
  document.body.appendChild(d); return d;
}
function BX(html, l, t, w, h, bg, size) {
  const d = document.createElement('div'); d.className = 'bx'; d.innerHTML = html;
  Object.assign(d.style, { left: l + 'px', top: t + 'px', width: w + 'px', height: h + 'px', background: bg, fontSize: (size || 10) + 'px' });
  document.body.appendChild(d); return d;
}
function dashBox(l, t, w, h, col) {
  const d = document.createElement('div'); d.className = 'dash';
  Object.assign(d.style, { left: l + 'px', top: t + 'px', width: w + 'px', height: h + 'px', border: '2px dashed ' + col });
  document.body.appendChild(d);
}
function legItem(x1, x2, y, lineCol, dx, fillCol, bCol, bw, label, lx) {
  const ln = document.createElement('div'); ln.className = 'lg';
  Object.assign(ln.style, { left: x1 + 'px', top: (y - 0.6) + 'px', width: (x2 - x1) + 'px', height: '1.2px', background: lineCol });
  document.body.appendChild(ln);
  const dt = document.createElement('div'); dt.className = 'lg';
  Object.assign(dt.style, { left: (dx - 6) + 'px', top: (y - 6) + 'px', width: '12px', height: '12px', borderRadius: '50%', background: fillCol, border: bw + 'px solid ' + bCol });
  document.body.appendChild(dt);
  T(label, lx, y + 4.5, 12, '#222');
}

// panel letters
T('a', 3, 40, 19); T('b', 2, 328, 19); T('c', 173, 17, 19); T('d', 330, 18, 19); T('e', 484, 18, 19);
T('i', 636, 67, 19); T('f', 173, 302, 19); T('g', 331, 302, 19); T('h', 487, 310, 19); T('j', 636, 298, 19);

// axis titles
const INT = 'Intensity, a.u.', BE = 'Binding Energy, eV';
TC(INT, 17, 119, 14, '#000', -90); TC(INT, 16, 405, 14, '#000', -90);
TC(INT, 179, 123, 14, '#000', -90); TC(INT, 336, 123, 14, '#000', -90); TC(INT, 497, 123, 14, '#000', -90);
TC(INT, 179, 420, 14, '#000', -90); TC(INT, 337, 428, 14, '#000', -90); TC(INT, 497, 420, 14, '#000', -90);
T('Raman Shift, cm<sup>-1</sup>', 30, 218, 14); T('Raman shift, cm<sup>-1</sup>', 28, 498, 14);
T(BE, 183, 271, 14); T(BE, 345, 269, 14); T(BE, 506, 269, 14);
T(BE, 183, 571, 14); T(BE, 345, 571, 14); T(BE, 506, 571, 14);
TC('Cl/Au Atomic Ratio', 315, 420, 14, '#000', -90); TC('N/Au Atomic Ratio', 471, 420, 14, '#000', -90);
TC('X/Au Atomic Ratio', 648, 128, 14, '#000', -90); TC('X/Au Atomic Ratio', 651, 365, 14, '#000', -90);
// right-axis tick labels (rotated like the axis title)
TC('0.08', 308, 314, 12, '#000', -90); TC('0.00', 308, 527, 12, '#000', -90);
TC('0.2', 467, 314, 12, '#000', -90); TC('0.0', 467, 522, 12, '#000', -90);

// a / b
T('Au-citrate', 29, 52, 15); T('Au-CPC', 28, 332, 15);
TC('CH<sub>x</sub>', 115, 43, 12, '#000', -60); TC('C=O', 137, 44, 12, '#000', -60);
TC('CH<sub>x</sub>', 112, 327, 12, '#000', -60); TC('C≡N', 134, 328, 12, '#000', -60);
T('before', 31, 87, 10.5, '#1f4a80'); T('CH<sub>3</sub>CN', 31, 130, 10.5, '#1f66b8'); T('EC -1.5 V', 31, 176, 11, '#2b9fe8');
T('before', 31, 374, 10.5, '#8a1c20'); T('CH<sub>3</sub>CN', 28, 413, 10.5, '#c0181e'); T('EC -1.5 V', 28, 455, 11, '#ff2020');

// c
const navy = '#1f4f8f', lblue = '#1f95e0', maroon = '#7a1a1a', dred = '#a8181c', red = '#ff2a2a';
T('Au-citrate before', 188, 74, 10, navy); T('Au-citrate EC -1.5 V', 188, 127, 10, lblue);
T('Au-CPC before', 188, 180, 10, maroon); T('Au-CPC EC -1.5 V', 188, 233, 10, red);
BX('<span>Au<sup>0</sup> 4f<sup>7/2</sup></span>', 203, 12, 40, 13, '#c4c5e8', 9.5);
BX('<span>Au<sup>0</sup> 4f<sup>5/2</sup></span>', 253, 12, 40, 13, '#c4c5e8', 9.5);
BX('<span>Au<sup>+1</sup></span>', 190, 38, 25, 13, '#f4b8c6', 9.5);
BX('<span>Au<sup>+3</sup></span>', 237, 31, 23, 14, '#e8788e', 9.5);

// d
T('O 1s', 349, 20, 10);
BX('<span><b>O</b>=C-O</span>', 390, 29, 34, 14, '#8fe08f', 9.5);
BX('<span>R-<b>O</b>H</span>', 362, 49, 30, 13, '#4b9fb4', 9.5);
BX('<span>O=C-<b>O</b></span>', 351, 66, 34, 13, '#5cc9b6', 9.5);
BX('<span>Au-<b>O</b></span>', 434, 54, 24, 14, '#90ac7e', 9.5);
T('Au-citrate', 351, 112, 10, navy); T('before', 351, 124, 10, navy);
T('Au-citrate', 351, 170, 10, navy); T('CH<sub>3</sub>CN', 351, 182, 10, navy);
T('Au-citrate EC -1.5 V', 351, 225, 10, lblue);

// e
T('C 1s', 512, 20, 10);
BX('<span><b>C</b>-C</span><span><b>C</b>-H</span>', 565, 10, 24, 25, '#b27ccf', 9.5);
BX('<span><b>C</b>-O</span>', 535, 42, 30, 14, '#e4a8ee', 9.5);
BX('<span>O=<b>C</b>-O</span>', 516, 64, 37, 14, '#dccbe3', 9.5);
T('Au-citrate before', 511, 107, 10, navy);
T('Au-citrate', 511, 166, 10, navy); T('CH<sub>3</sub>CN', 511, 178, 10, navy);
T('Au-citrate EC -1.5 V', 511, 229, 10, lblue);

// f
TC('Cl 2p<sup>1/2</sup>', 235, 328, 10, '#000', -90); TC('Cl 2p<sup>3/2</sup>', 253, 328, 10, '#000', -90);
T('Au-CPC before', 188, 416, 10, maroon); T('Au-CPC CH<sub>3</sub>CN', 188, 472, 10, dred); T('Au-CPC EC -1.5 V', 188, 527, 10, red);

// g
T('N 1s', 349, 316, 9.5);
BX('<span><b>pyridinium N</b></span><span>from CP<sup>+</sup></span><span>or CH<sub>3</sub>C<b>N</b></span>', 407, 315, 55, 34, '#fdf27c', 8.5);
T('CTA<sup>+</sup>', 355, 355, 8.5, '#111', { fontWeight: 'bold' });
T('CTA<sup>+</sup>', 356, 415, 8.5, '#111', { fontWeight: 'bold' });
T('TBA<sup>+</sup>/CTA<sup>+</sup>', 355, 481, 8.5, '#111', { fontWeight: 'bold' });
T('Au-CPC before', 351, 397, 10, maroon); T('Au-CPC CH<sub>3</sub>CN', 351, 473, 10, dred); T('Au-CPC EC -1.5 V', 351, 526, 10, red);

// h
T('C 1s', 511, 316, 9.5);
BX('<span><b>C</b>-C</span><span><b>C</b>-H</span>', 563, 309, 22, 22, '#b27ccf', 9.5);
BX('<span><b>C</b>-O</span><span><b>C</b>-N</span>', 523, 337, 27, 25, '#dcaaeb', 9.5);
T('Au-CPC before', 510, 401, 10, maroon); T('Au-CPC CH<sub>3</sub>CN', 510, 465, 10, dred); T('Au-CPC EC -1.5 V', 510, 528, 10, red);

// i / j boxes and legends
dashBox(638, 58, 177, 181, '#1f80d0');
dashBox(637, 292, 178, 184, '#d42020');
legItem(689, 708, 75, '#d596d5', 697, '#b34db3', '#b34db3', 1, 'C', 712);
legItem(723, 746, 75, '#4ea8df', 735, '#ffffff', '#1c8ed8', 2.5, 'O', 750);
legItem(760, 784, 75, '#3ab08a', 772, '#2db34a', '#d4e44a', 1.2, 'O<sub>Au</sub>', 786);
legItem(689, 712, 308, '#f3b48c', 700, '#f4a474', '#f0c070', 1.2, 'N', 715);
legItem(728, 753, 308, '#4a8ad0', 740, '#1a5fb4', '#2a70c8', 1, 'Cl', 757);
legItem(770, 795, 308, '#d596d5', 782, '#b34db3', '#b34db3', 1, 'C', 799);
</script>
</body></html>
